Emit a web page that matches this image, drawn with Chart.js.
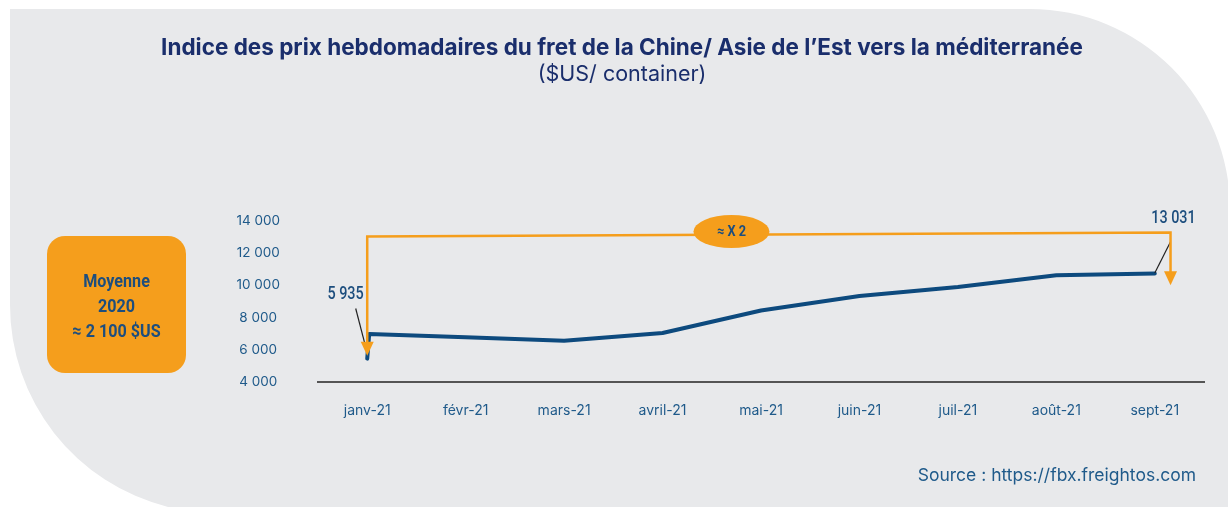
<!DOCTYPE html>
<html>
<head>
<meta charset="utf-8">
<script src="https://cdn.jsdelivr.net/npm/chart.js@4.4.0/dist/chart.umd.min.js"></script>
<style>
  html, body { margin: 0; padding: 0; background: #fff; }
</style>
</head>
<body>
<canvas id="myChart" width="1228" height="507"></canvas>
<script>
// --- data ---
let months = ["janv-21", "févr-21", "mars-21", "avril-21", "mai-21", "juin-21", "juil-21", "août-21", "sept-21"];
let weekPos = [0, 0.02, 1, 2, 3, 4, 5, 6, 7, 8];           // month index of each point
let prices = [5450, 6980, 6770, 6560, 7040, 8440, 9330, 9890, 10620, 10730];
let yTicks = [4000, 6000, 8000, 10000, 12000, 14000];

// annotation values (month index / $US)
let bracketX = [0, 8.16];
let bracketTop = [13020, 13270];
let arrowTips = [5625, 10000];
let ratioPos = [3.7, 13330];
let ratioLabel = "≈ X 2";
let valueLabels = [["5 935", -0.22, 9440], ["13 031", 8.19, 14125]];
let leaderLines = [[-0.117, 8560, 0, 5810], [8.16, 12700, 8.0, 10760]];
let boxLines = ["Moyenne", "2020", "≈ 2 100 $US"];

const navy = "#1a2e6c";
const blue = "#1f5a8a";
const lineBlue = "#0d4a7e";
const orange = "#f59e1c";

function spaced(v) {
  return String(v).replace(/\B(?=(\d{3})+(?!\d))/g, " ");
}

// text squeezed horizontally, like the condensed face of the original
function narrowText(ctx, text, x, y, sx) {
  ctx.save();
  ctx.translate(x, y);
  ctx.scale(sx, 1);
  ctx.fillText(text, 0, 0);
  ctx.restore();
}

const backdrop = {
  id: "backdrop",
  beforeDraw(chart) {
    const ctx = chart.ctx;
    ctx.save();
    ctx.fillStyle = "#fff";
    ctx.fillRect(0, 0, chart.width, chart.height);
    ctx.fillStyle = "#e8e9eb";
    ctx.beginPath();
    ctx.moveTo(10, 9);
    ctx.lineTo(1030, 9);
    ctx.arc(1030, 209, 200, -Math.PI / 2, 0);
    ctx.lineTo(1230, 507);
    ctx.lineTo(168, 507);
    ctx.arc(218, 305, 208, Math.atan2(202, -50), Math.PI);
    ctx.closePath();
    ctx.fill();

    // average box
    ctx.fillStyle = orange;
    ctx.beginPath();
    ctx.roundRect(47, 236, 139, 137, 18);
    ctx.fill();
    ctx.fillStyle = "#1d4e7e";
    ctx.font = "bold 19px Roboto";
    ctx.textAlign = "center";
    ctx.textBaseline = "middle";
    boxLines.forEach((t, i) => narrowText(ctx, t, 116.5, 282 + i * 25, 0.85));

    // source
    ctx.fillStyle = blue;
    ctx.font = "17.5px Inter";
    ctx.textAlign = "right";
    ctx.fillText("Source : https://fbx.freightos.com", 1196, 476);
    ctx.restore();
  }
};

const annotations = {
  id: "annotations",
  afterDatasetsDraw(chart) {
    const ctx = chart.ctx;
    const xs = chart.scales.x, ys = chart.scales.y;
    const px = v => xs.getPixelForValue(v);
    const py = v => ys.getPixelForValue(v);
    ctx.save();

    // leader lines
    ctx.strokeStyle = "#222";
    ctx.lineWidth = 1.2;
    leaderLines.forEach(l => {
      ctx.beginPath();
      ctx.moveTo(px(l[0]), py(l[1]));
      ctx.lineTo(px(l[2]), py(l[3]));
      ctx.stroke();
    });

    // orange bracket
    let x0 = px(bracketX[0]), x1 = px(bracketX[1]);
    let t0 = py(bracketTop[0]), t1 = py(bracketTop[1]);
    let a0 = py(arrowTips[0]), a1 = py(arrowTips[1]);
    ctx.strokeStyle = orange;
    ctx.fillStyle = orange;
    ctx.lineWidth = 2.5;
    ctx.beginPath();
    ctx.moveTo(x0, a0 - 10);
    ctx.lineTo(x0, t0);
    ctx.lineTo(x1, t1);
    ctx.lineTo(x1, a1 - 10);
    ctx.stroke();
    [[x0, a0], [x1, a1]].forEach(([ax, ay]) => {
      ctx.beginPath();
      ctx.moveTo(ax - 6.5, ay - 14);
      ctx.lineTo(ax + 6.5, ay - 14);
      ctx.lineTo(ax, ay);
      ctx.closePath();
      ctx.fill();
    });

    // ratio bubble
    let ex = px(ratioPos[0]), ey = py(ratioPos[1]);
    ctx.beginPath();
    ctx.ellipse(ex, ey, 38, 16.5, 0, 0, Math.PI * 2);
    ctx.fill();
    ctx.fillStyle = "#1d4e7e";
    ctx.font = "bold 15px Roboto";
    ctx.textAlign = "center";
    ctx.textBaseline = "middle";
    narrowText(ctx, ratioLabel, ex, ey + 1, 0.85);

    // value labels
    ctx.font = "500 18px Roboto";
    valueLabels.forEach(([t, vx, vy]) => narrowText(ctx, t, px(vx), py(vy), 0.8));
    ctx.restore();
  }
};

const ctx = document.getElementById("myChart").getContext("2d");
const myChart = new Chart(ctx, {
  type: "line",
  data: {
    datasets: [{
      data: weekPos.map((p, i) => ({ x: p, y: prices[i] })),
      borderColor: lineBlue,
      borderWidth: 4,
      borderCapStyle: "round",
      borderJoinStyle: "round",
      pointRadius: 0,
      tension: 0,
      fill: false
    }]
  },
  options: {
    responsive: false,
    devicePixelRatio: 1,
    animation: false,
    layout: { padding: { left: 40, right: 24, top: 0, bottom: 0 } },
    plugins: {
      legend: { display: false },
      tooltip: { enabled: false },
      title: {
        display: true,
        text: "Indice des prix hebdomadaires du fret de la Chine/ Asie de l’Est vers la méditerranée",
        color: navy,
        font: { family: "Inter", size: 22.5, weight: "bold", lineHeight: 1.2 },
        padding: { top: 35, bottom: 0 }
      },
      subtitle: {
        display: true,
        text: "($US/ container)",
        color: navy,
        font: { family: "Inter", size: 21.5, weight: "normal", lineHeight: 1.2 },
        padding: { top: 0, bottom: 133 }
      }
    },
    scales: {
      x: {
        type: "linear",
        min: -0.5,
        max: 8.5,
        afterBuildTicks: s => { s.ticks = months.map((m, i) => ({ value: i })); },
        afterFit: s => { s.height = 125; },
        ticks: {
          callback: v => months[v],
          color: blue,
          font: { family: "Inter", size: 14 },
          padding: 20,
          maxRotation: 0,
          autoSkip: false
        },
        grid: { display: false, drawTicks: false },
        border: { display: true, color: "#555", width: 2 }
      },
      y: {
        min: 4000,
        max: 14000,
        afterBuildTicks: s => { s.ticks = yTicks.map(v => ({ value: v })); },
        afterFit: s => { s.width = 278; },
        ticks: {
          callback: v => spaced(v),
          color: blue,
          font: { family: "Inter", size: 13.5 },
          crossAlign: "center",
          padding: 38
        },
        grid: { display: false, drawTicks: false },
        border: { display: false }
      }
    }
  },
  plugins: [backdrop, annotations]
});
</script>
</body>
</html>
